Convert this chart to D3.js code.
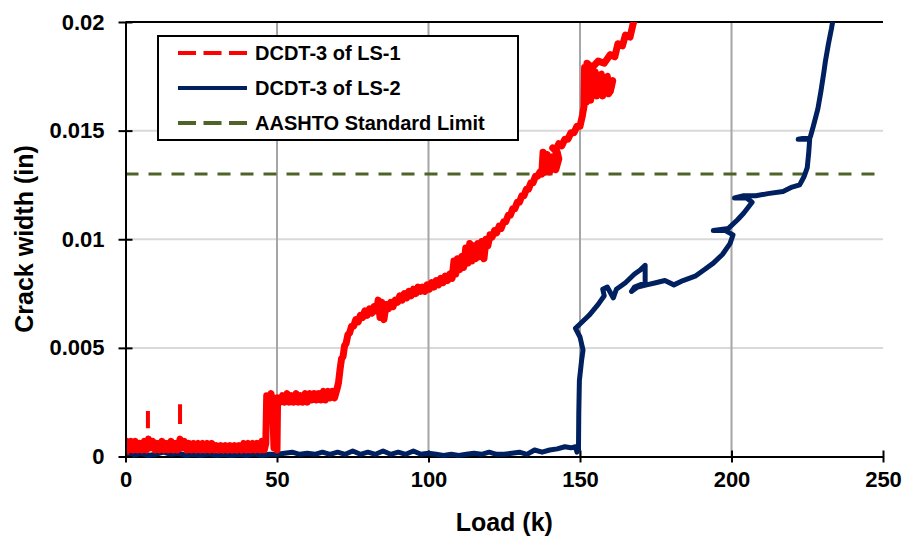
<!DOCTYPE html>
<html lang="en">
  <head>
    <meta charset="utf-8"/>
    <title>Crack width vs load</title>
    <script src="https://cdn.jsdelivr.net/npm/d3@7"></script>
    <style>
      body { margin: 0; background: #fff; }
      text { font-family: Arial, "Liberation Sans", sans-serif; font-weight: bold; fill: #000; }
    </style>
  </head>
  <body>
    <div id="chart-holder"></div>
    <script type="text/javascript">

      // ---- data ----
      var xTicks = [0, 50, 100, 150, 200, 250];
      var yTicks = [0, 0.005, 0.01, 0.015, 0.02];
      var yTickLabels = ["0", "0.005", "0.01", "0.015", "0.02"];
      var limitValue = 0.013;
      var legendLabels = ["DCDT-3 of LS-1", "DCDT-3 of LS-2", "AASHTO Standard Limit"];

      // DCDT-3 of LS-1 : [load (k), crack width (in)]
      var ls1 = [
        [0,0.0001],[0.4,0.0007],[1,0.0003],[1.8,0.0007],[2.5,0.0003],[3.2,0.0007],[4,0.0003],[4.8,0.0006],
        [5.5,0.0003],[6.2,0.0007],[7,0.0003],[7.6,0.0008],[8.3,0.0004],[9,0.0007],[9.8,0.0003],[10.5,0.0006],
        [11.2,0.0003],[12,0.0007],[12.8,0.0003],[13.5,0.0006],[14.2,0.0003],[15,0.0007],[15.8,0.0003],[16.5,0.0006],
        [17.2,0.0003],[18,0.0008],[18.7,0.0004],[19.4,0.0007],[20.2,0.0003],[21,0.0006],[21.8,0.0003],[22.5,0.0006],
        [23.3,0.0003],[24,0.0006],[24.8,0.0003],[25.5,0.0006],[26.3,0.0003],[27,0.0006],[27.8,0.0003],[28.5,0.0006],
        [29.3,0.0003],[30,0.0005],[30.8,0.0003],[31.5,0.0005],[32.3,0.0003],[33,0.0005],[33.8,0.0003],[34.5,0.0005],
        [35.3,0.0003],[36,0.0005],[36.8,0.0003],[37.5,0.0005],[38.3,0.0003],[39,0.0006],[39.8,0.0003],[40.5,0.0006],
        [41.3,0.0003],[42,0.0006],[42.8,0.0003],[43.5,0.0006],[44.3,0.0003],[45,0.0007],[45.8,0.0003],[46.3,0.0006],
        [46.6,0.0028],[47.3,0.0026],[48,0.0029],[48.5,0.0026],[49,0.0004],[49.6,0.0006],[50,0.0003],[50.2,0.0027],
        [51,0.0025],[51.8,0.0028],[52.5,0.0025],[53.3,0.0029],[54,0.0025],[54.8,0.0028],[55.5,0.0025],[56.3,0.0029],
        [57,0.0025],[57.8,0.0028],[58.5,0.0025],[59.3,0.0029],[60,0.0025],[60.8,0.0029],[61.5,0.0026],[62.3,0.0029],
        [63,0.0026],[63.8,0.0029],[64.5,0.0026],[65.3,0.0030],[66,0.0026],[66.8,0.0030],[67.5,0.0027],[68.3,0.0030],
        [69,0.0027],[69.8,0.0031],[70.3,0.0034],[70.8,0.0040],[71.3,0.0045],[71.8,0.0046],[72.3,0.0051],[72.8,0.0052],
        [73.4,0.0056],[74,0.0057],[74.6,0.0060],[75.3,0.0060],[76,0.0063],[76.8,0.0062],[77.5,0.0065],[78.3,0.0064],
        [79,0.0067],[79.8,0.0065],[80.5,0.0068],[81.3,0.0066],[82,0.0069],[82.8,0.0067],[83.4,0.0072],[84,0.0064],
        [84.6,0.0071],[85.3,0.0063],[86,0.0070],[86.8,0.0068],[87.5,0.0071],[88.3,0.0069],[89,0.0072],[89.8,0.0071],
        [90.5,0.0074],[91.3,0.0072],[92,0.0075],[92.8,0.0073],[93.5,0.0076],[94.3,0.0074],[95,0.0077],[95.8,0.0075],
        [96.5,0.0078],[97.3,0.0076],[98,0.0078],[98.8,0.0076],[99.5,0.0079],[100.3,0.0077],[101,0.0080],[101.8,0.0078],
        [102.5,0.0081],[103.3,0.0079],[104,0.0082],[104.8,0.0080],[105.5,0.0083],[106.3,0.0081],[107,0.0084],[107.8,0.0082],
        [108.4,0.0090],[109,0.0084],[109.6,0.0091],[110.3,0.0086],[111,0.0092],[111.6,0.0087],[112.3,0.0096],[113,0.0089],
        [113.6,0.0098],[114.3,0.0090],[115,0.0097],[115.6,0.0091],[116.3,0.0098],[117,0.0092],[117.6,0.0099],[118.3,0.0091],
        [119,0.0100],[119.6,0.0097],[120.3,0.0102],[121,0.0101],[121.8,0.0104],[122.5,0.0103],[123.3,0.0106],[124,0.0105],
        [124.8,0.0108],[125.5,0.0108],[126.3,0.0111],[127,0.0111],[127.8,0.0114],[128.5,0.0114],[129.3,0.0117],[130,0.0117],
        [130.8,0.0120],[131.5,0.0120],[132.3,0.0123],[133,0.0123],[133.8,0.0126],[134.5,0.0126],[135.3,0.0129],[136,0.0129],
        [136.8,0.0131],[137.4,0.0130],[137.8,0.0140],[138.4,0.0131],[139.2,0.0139],[140,0.0131],[141,0.0138],[142,0.0132],
        [143,0.0137],[142.5,0.0140],[141,0.0142],[142,0.0141],[143,0.0144],[144,0.0143],[145,0.0146],[146,0.0146],
        [147,0.0149],[148,0.0149],[149,0.0152],[150,0.0152],[150.8,0.0157],[151.3,0.0161],[151.5,0.0179],[152,0.0163],
        [152.6,0.0178],[153.5,0.0164],[154.5,0.0177],[155.5,0.0166],[156.5,0.0175],[157.5,0.0166],[158.5,0.0174],[159.5,0.0167],
        [160.8,0.0173],[160,0.0168],[159,0.0175],[158,0.0168],[157,0.0176],[156,0.0169],[155,0.0177],[154,0.0170],
        [153,0.0178],[152.5,0.0172],[152.3,0.0181],[154,0.0179],[156,0.0182],[158,0.0181],[160,0.0185],[161.5,0.0184],
        [162.5,0.0190],[164,0.0189],[165,0.0194],[166.5,0.0193],[167.5,0.0199],[168.2,0.0202]
      ];

      // two isolated dash pieces of LS-1 near the start
      var ls1Spikes = [
        [[7.4,0.0013],[7.4,0.0021]],
        [[18,0.0015],[18,0.0024]]
      ];

      // DCDT-3 of LS-2 : [load (k), crack width (in)]
      var ls2 = [
        [0,0.0001],[2.5,0.00005],[5,0.00015],[7.5,0.00005],[10,0.0001],[12.5,0.0002],[15,0.0001],[17.5,0.00015],
        [20,0.00005],[22.5,0.0001],[25,0.00005],[27.5,0.00012],[30,0.00005],[32.5,0.0001],[35,0.00005],[37.5,0.0001],
        [40,0.00005],[42.5,0.00012],[45,0.00005],[47.5,0.0001],[50,0.0001],[52.5,0.00015],[55,0.0002],[57.5,0.0001],
        [60,0.00015],[62.5,0.0001],[65,0.0002],[67.5,0.0001],[70,0.0002],[72.5,0.0001],[75,0.00025],[77.5,0.0001],
        [80,0.0002],[82.5,0.0001],[85,0.00025],[87.5,0.0001],[90,0.0002],[92.5,0.0001],[95,0.00025],[97.5,0.0001],
        [100,0.00015],[102.5,0.0001],[105,0.00005],[107.5,0.0001],[110,0.00005],[112.5,0.0001],[115,0.00015],[117.5,0.0001],
        [120,0.0002],[122.5,0.0001],[125,0.0001],[127.5,0.00015],[130,0.0002],[132.5,0.0001],[135,0.0003],[137.5,0.0002],
        [140,0.0003],[142.5,0.00035],[145,0.00045],[147,0.0004],[148.5,0.00045],[149,0.0002],[149.5,0.0003],[149.6,0.002],
        [149.8,0.0035],[150.5,0.0044],[151,0.0049],[150,0.0055],[148.5,0.0059],[150,0.0061],[153,0.0065],[156,0.0070],
        [158,0.0074],[157.5,0.0077],[159,0.0078],[161,0.0073],[162,0.0077],[165,0.0080],[168,0.0084],[170,0.0086],
        [171.5,0.0088],[171.5,0.0080],[168,0.0078],[167,0.0076],[169,0.0078],[172,0.0079],[175,0.0080],[178,0.0081],
        [181,0.0079],[184,0.0081],[188,0.0083],[191,0.0086],[194,0.0089],[197,0.0093],[199.5,0.0098],[200.5,0.0102],
        [198,0.0104],[194,0.0104],[199,0.0105],[202,0.0109],[204,0.0112],[206.8,0.0117],[205,0.0119],[201,0.0119],
        [204,0.0120],[208,0.0120],[212,0.0121],[217,0.0122],[220,0.0124],[222.5,0.0125],[224,0.0129],[225,0.0133],
        [225.5,0.0140],[225.8,0.0146],[222,0.0146],[226,0.0147],[227,0.0152],[228.5,0.0160],[229.5,0.0168],[230.5,0.0177],
        [231,0.0182],[232,0.0190],[233,0.0197],[233.5,0.0201]
      ];

      // ---- layout ----
      var width = 904, height = 538;
      var margin = {top: 22, right: 21, bottom: 81.5, left: 125.5};
      var plotW = width - margin.left - margin.right;
      var plotH = height - margin.top - margin.bottom;

      var red = "#ff0000", blue = "#002060", green = "#4f6228";

      var x = d3.scaleLinear().domain([0, 250]).range([0, plotW]);
      var y = d3.scaleLinear().domain([0, 0.02]).range([plotH, 0]);

      var svg = d3.select("#chart-holder")
        .append("svg")
        .attr("width", width)
        .attr("height", height);

      var g = svg.append("g")
        .attr("transform", "translate(" + margin.left + "," + margin.top + ")");

      // clip only the top (series run past 0.02), leave room below the axis
      g.append("clipPath").attr("id", "clip")
        .append("rect")
        .attr("x", 0).attr("y", 0)
        .attr("width", plotW).attr("height", plotH + 4);

      // horizontal grid (light) and vertical grid (darker)
      g.selectAll(".hgrid")
        .data(yTicks.filter(function(d) { return d > 0 && d < 0.02; }))
        .enter().append("line")
        .attr("x1", 0).attr("x2", plotW)
        .attr("y1", function(d) { return y(d); })
        .attr("y2", function(d) { return y(d); })
        .attr("stroke", "#d9d9d9").attr("stroke-width", 2);

      g.selectAll(".vgrid")
        .data(xTicks.filter(function(d) { return d > 0 && d < 250; }))
        .enter().append("line")
        .attr("x1", function(d) { return x(d); })
        .attr("x2", function(d) { return x(d); })
        .attr("y1", 0).attr("y2", plotH)
        .attr("stroke", "#a6a6a6").attr("stroke-width", 2);

      // top border
      g.append("line")
        .attr("x1", 0).attr("x2", plotW)
        .attr("y1", 0).attr("y2", 0)
        .attr("stroke", "#000").attr("stroke-width", 2);

      // AASHTO limit
      g.append("line")
        .attr("x1", 0).attr("x2", plotW)
        .attr("y1", y(limitValue)).attr("y2", y(limitValue))
        .attr("stroke", green).attr("stroke-width", 3)
        .attr("stroke-dasharray", "13,10");

      var line = d3.line()
        .x(function(d) { return x(d[0]); })
        .y(function(d) { return y(d[1]); });

      // axes (drawn before the series so the data sits on top)
      var xAxis = g.append("g")
        .attr("transform", "translate(0," + plotH + ")")
        .call(d3.axisBottom(x).tickValues(xTicks).tickSize(6).tickSizeOuter(0));
      xAxis.select(".domain").attr("stroke", "#000").attr("stroke-width", 2);
      xAxis.selectAll(".tick line").attr("stroke", "#000").attr("stroke-width", 2)
        .attr("y1", -6).attr("y2", 6);
      xAxis.selectAll(".tick text")
        .attr("y", 15)
        .attr("dy", "0.71em")
        .style("font-size", "22px").style("font-family", "Arial, 'Liberation Sans', sans-serif")
        .style("font-weight", "bold").attr("fill", "#000");

      var series = g.append("g").attr("clip-path", "url(#clip)");

      series.append("path")
        .datum(ls2)
        .attr("d", line)
        .attr("fill", "none")
        .attr("stroke", blue)
        .attr("stroke-width", 5)
        .attr("stroke-linejoin", "round");

      series.append("path")
        .datum(ls1)
        .attr("d", line)
        .attr("fill", "none")
        .attr("stroke", red)
        .attr("stroke-width", 7)
        .attr("stroke-linejoin", "round");

      series.selectAll(".spike")
        .data(ls1Spikes)
        .enter().append("path")
        .attr("d", line)
        .attr("fill", "none")
        .attr("stroke", red)
        .attr("stroke-width", 4);

      var yAxis = g.append("g")
        .call(d3.axisLeft(y).tickValues(yTicks)
          .tickFormat(function(d, i) { return yTickLabels[i]; })
          .tickSize(7).tickSizeOuter(0));
      yAxis.select(".domain").attr("stroke", "#000").attr("stroke-width", 2);
      yAxis.selectAll(".tick line").attr("stroke", "#000").attr("stroke-width", 2)
        .attr("x1", -7).attr("x2", 7);
      yAxis.selectAll(".tick text")
        .attr("x", -21)
        .style("font-size", "22px").style("font-family", "Arial, 'Liberation Sans', sans-serif")
        .style("font-weight", "bold").attr("fill", "#000");

      // axis titles
      svg.append("text")
        .attr("x", margin.left + plotW / 2)
        .attr("y", 531)
        .attr("text-anchor", "middle")
        .style("font-size", "25px")
        .text("Load (k)");

      svg.append("text")
        .attr("transform", "translate(33," + 239 + ")rotate(-90)")
        .attr("text-anchor", "middle")
        .style("font-size", "25px")
        .text("Crack width (in)");

      // legend
      var legend = svg.append("g").attr("transform", "translate(158,36)");
      legend.append("rect")
        .attr("width", 360).attr("height", 104)
        .attr("fill", "#fff").attr("stroke", "#000").attr("stroke-width", 2);

      var legendStyles = [
        {color: red, dash: "18,7.5"},
        {color: blue, dash: null},
        {color: green, dash: "18,7.5"}
      ];

      var rows = legend.selectAll(".row")
        .data(legendLabels)
        .enter().append("g")
        .attr("transform", function(d, i) { return "translate(0," + (17 + i * 35) + ")"; });

      rows.append("line")
        .attr("x1", 20).attr("x2", 89)
        .attr("stroke", function(d, i) { return legendStyles[i].color; })
        .attr("stroke-width", 4)
        .attr("stroke-dasharray", function(d, i) { return legendStyles[i].dash; });

      rows.append("text")
        .attr("x", 97)
        .attr("y", 7)
        .style("font-size", "20px")
        .text(function(d) { return d; });

    </script>
  </body>
</html>
